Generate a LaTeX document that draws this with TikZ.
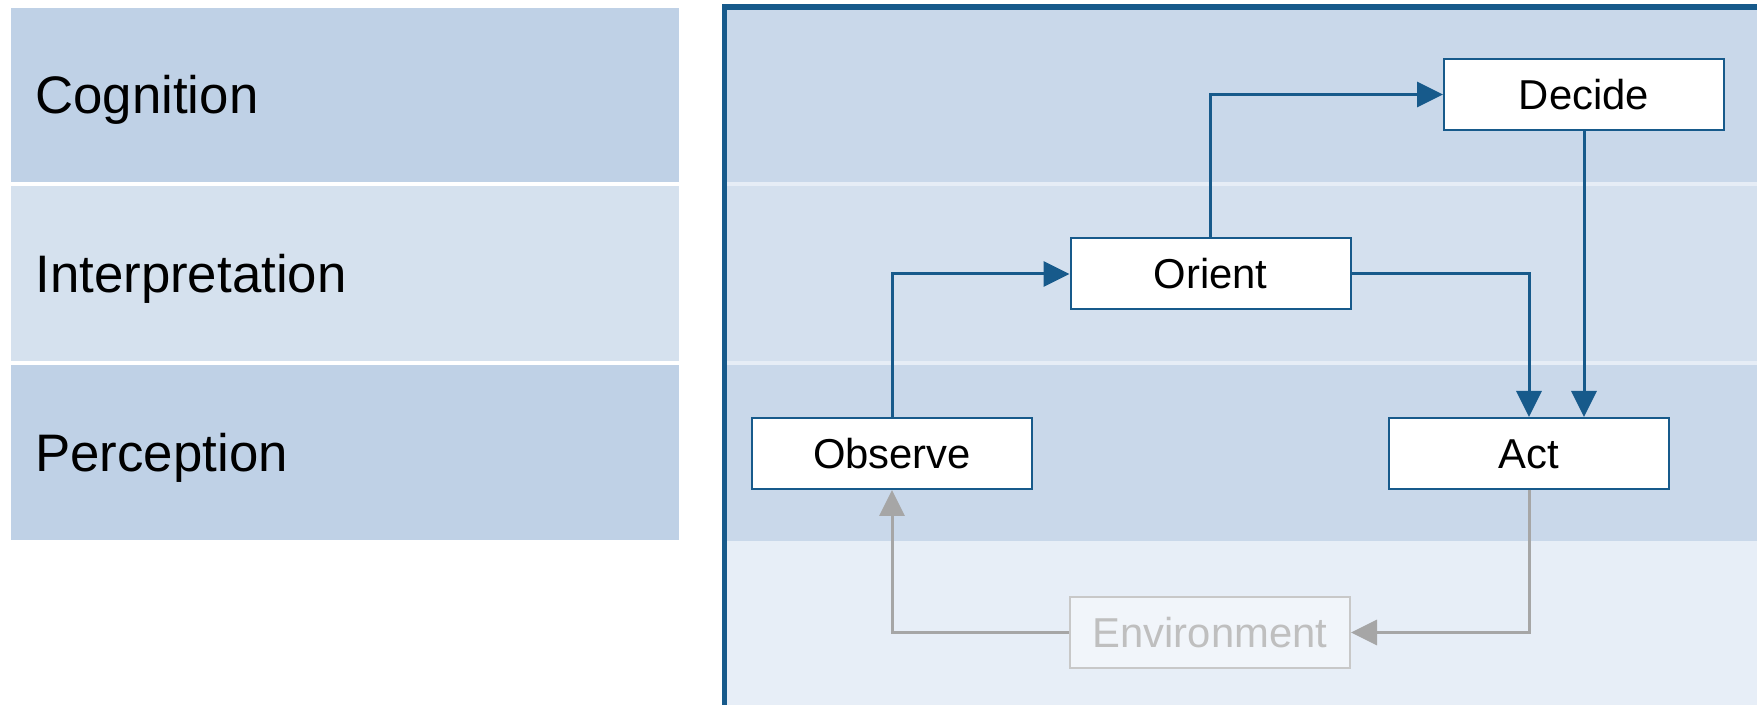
\documentclass[tikz,border=0pt]{standalone}
\usepackage{fontspec}
\setmainfont{Liberation Sans}
\usetikzlibrary{arrows.meta}

\definecolor{frameblue}{HTML}{175A8B}
\definecolor{bandA}{HTML}{C9D8EA}
\definecolor{bandB}{HTML}{D4E0EE}
\definecolor{bandEnv}{HTML}{E7EEF7}
\definecolor{sepline}{HTML}{E6EDF6}
\definecolor{cellA}{HTML}{BFD1E6}
\definecolor{cellB}{HTML}{D5E1EE}
\definecolor{envgray}{HTML}{A6A6A6}
\definecolor{envborder}{HTML}{C8C8C8}
\definecolor{envtext}{HTML}{BFBFBF}
\definecolor{envfill}{HTML}{F1F5FA}

\tikzset{
  layerlabel/.style={anchor=base west, inner sep=0pt,
    font=\fontsize{26.4}{30}\selectfont},
  stagebox/.style={draw=frameblue, line width=1pt, fill=white,
    minimum width=140pt, minimum height=35.5pt, inner sep=0pt,
    text height=15pt, text depth=0pt,
    font=\fontsize{20.9}{24}\selectfont},
  envbox/.style={stagebox, draw=envborder, fill=envfill, text=envtext},
  flow/.style={draw=frameblue, line width=1.5pt,
    -{Triangle[length=13pt,width=12.5pt]}},
  envflow/.style={draw=envgray, line width=1.5pt,
    -{Triangle[length=13pt,width=12.5pt]}},
}

\begin{document}
\begin{tikzpicture}[x=0.5pt, y=-0.5pt]
\useasboundingbox (0,0) rectangle (1757,705);

% layer legend on the left
\fill[cellA] (11,8)   rectangle (679,182);
\fill[cellB] (11,186) rectangle (679,361);
\fill[cellA] (11,365) rectangle (679,540);
\node[layerlabel] (lcog)  at (35,114)   {Cognition};
\node[layerlabel] (linte) at (35,292.5) {Interpretation};
\node[layerlabel] (lperc) at (35,471.5) {Perception};

% layer bands of the loop panel
\fill[bandA]   (722,9)   rectangle (1757,182);
\fill[sepline] (722,182) rectangle (1757,186);
\fill[bandB]   (722,186) rectangle (1757,361);
\fill[sepline] (722,361) rectangle (1757,365);
\fill[bandA]   (722,365) rectangle (1757,541);
\fill[bandEnv] (722,541) rectangle (1757,705);

% panel frame (open to the right and bottom)
\draw[frameblue, line width=2.6pt] (724.5,710) -- (724.5,7) -- (1765,7);

% loop stages
\node[stagebox] (decide)  at (1584,94.5)  {Decide};
\node[stagebox] (orient)  at (1210.5,274) {Orient};
\node[stagebox] (observe) at (892,453.5)  {Observe};
\node[stagebox] (act)     at (1529,453.5) {Act};
\node[envbox]   (env)     at (1210,632.5) {Environment};

% loop connectors
\draw[flow] (observe.north) |- (orient.west);
\draw[flow] (orient.north) |- (decide.west);
\draw[flow] (orient.east) -| (act.north);
\draw[flow] (decide.south) -- (decide.south |- act.north);
\draw[envflow] (act.south) |- (env.east);
\draw[envflow] (env.west) -| (observe.south);
\end{tikzpicture}
\end{document}
